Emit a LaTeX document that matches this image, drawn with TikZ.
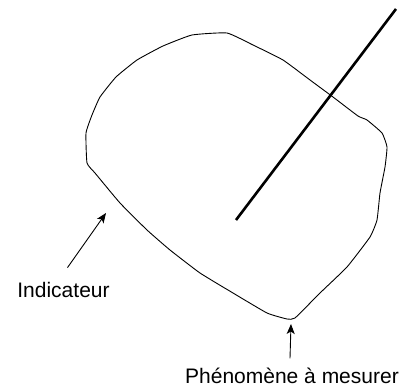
\documentclass[tikz,border=0pt]{standalone}
\usepackage{fontspec}
\setmainfont{Liberation Sans}
\usetikzlibrary{arrows.meta, positioning}
\tikzset{
  blob/.style={draw=black, line width=0.9pt, line join=round},
  stick/.style={draw=black, line width=2.6pt},
  pointer/.style={-{Stealth[length=10pt, width=8pt, inset=2.5pt]}, line width=0.9pt},
  caption/.style={inner sep=0pt, anchor=base, font=\fontsize{21}{25}\selectfont},
}

\begin{document}
\begin{tikzpicture}[x=1pt, y=-1pt]
\useasboundingbox (0,0) rectangle (402,390);
% the measured object
\draw[blob] plot[smooth cycle, tension=0.25] coordinates {
  (87,163) (86,133) (92,115) (100,97) (116,77) (137,60) (163,46) (192,35)
  (227,33) (253,45) (283,60) (310,80) (333,97) (358,116) (367,120)
  (382,133) (387,147) (385,167) (380,193) (377,220) (370,237) (347,267)
  (320,293) (295,318) (287,319) (267,313) (233,293) (200,273) (170,250)
  (147,230) (120,203) (95,173)};
% the needle
\coordinate (needleIn) at (236,220);
\coordinate (needleOut) at (396,9);
\draw[stick] (needleIn) -- (needleOut);
% labels
\node[caption] (indic) at (63.5,298) {Indicateur};
\node[caption] (phen) at (292,384) {Phénomène à mesurer};
\coordinate (indicTip) at (106,213);
\coordinate (phenTip) at (291,324);
\draw[pointer] ([shift={(4pt,15pt)}]indic.north) -- (indicTip);
\draw[pointer] ([shift={(-2pt,10pt)}]phen.north) -- (phenTip);
\end{tikzpicture}
\end{document}
